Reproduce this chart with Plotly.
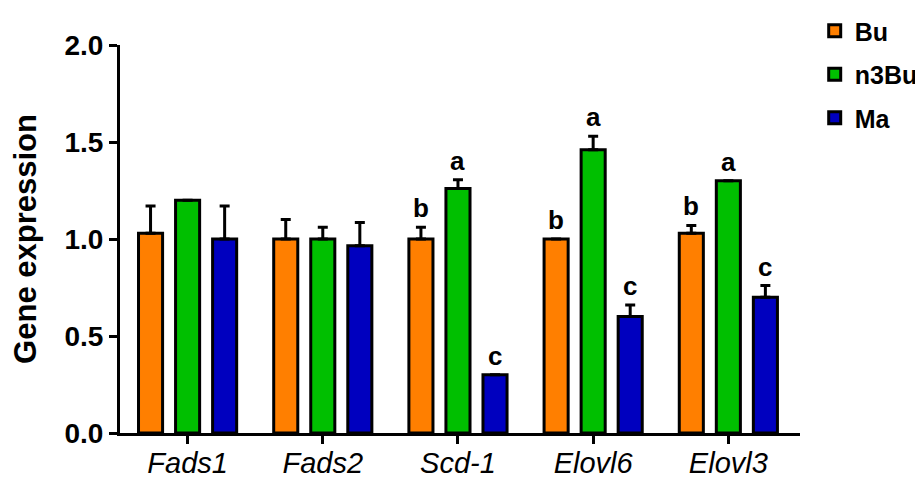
import plotly.graph_objects as go

genes = ["Fads1", "Fads2", "Scd-1", "Elovl6", "Elovl3"]
groups = ["Bu", "n3Bu", "Ma"]
colors = ["#FF7F00", "#00BF00", "#0000BF"]

bu_vals = [1.03, 1.00, 1.00, 1.00, 1.03]
bu_err = [0.14, 0.10, 0.06, 0.0, 0.04]
n3bu_vals = [1.20, 1.00, 1.26, 1.46, 1.30]
n3bu_err = [0.0, 0.06, 0.045, 0.07, 0.0]
ma_vals = [1.00, 0.965, 0.30, 0.60, 0.70]
ma_err = [0.17, 0.12, 0.0, 0.06, 0.06]

bu_letters = ["", "", "b", "b", "b"]
n3bu_letters = ["", "", "a", "a", "a"]
ma_letters = ["", "", "c", "c", "c"]

vals = [bu_vals, n3bu_vals, ma_vals]
errs = [bu_err, n3bu_err, ma_err]
letters = [bu_letters, n3bu_letters, ma_letters]

FONT = "Liberation Sans, Arial, sans-serif"

fig = go.Figure()
for j, g in enumerate(groups):
    fig.add_trace(go.Bar(
        name=g, x=genes, y=vals[j], legendgroup=g,
        marker=dict(color=colors[j], line=dict(color="black", width=3)),
        error_y=dict(type="data", symmetric=False, array=errs[j],
                     arrayminus=[0] * len(genes), color="black",
                     thickness=3, width=5),
    ))

slot = 0.274
for j in range(3):
    for i in range(len(genes)):
        if letters[j][i]:
            fig.add_annotation(
                x=i + (j - 1) * slot, y=vals[j][i] + errs[j][i],
                xref="x", yref="y", text=letters[j][i], showarrow=False,
                yanchor="bottom", yshift=2,
                font=dict(family=FONT, size=26, color="black", weight="bold"),
            )

fig.update_layout(
    width=923, height=477,
    margin=dict(l=112, r=131, t=37, b=52, autoexpand=False),
    paper_bgcolor="white", plot_bgcolor="white",
    barmode="group", bargap=0.178, bargroupgap=0.35,
    legend=dict(xref="container", yref="container",
                x=0.874, xanchor="left", y=1.013, yanchor="top",
                font=dict(family=FONT, size=25, color="black", weight="bold"),
                traceorder="grouped", tracegroupgap=8,
                bgcolor="rgba(0,0,0,0)"),
    font=dict(family=FONT, color="black"),
)
fig.update_xaxes(
    type="category", range=[-0.5, 4.53], automargin=False,
    showline=True, linecolor="black", linewidth=3,
    ticks="outside", ticklen=8, tickwidth=3, tickcolor="black",
    ticklabelstandoff=-6,
    tickfont=dict(family=FONT, size=29, style="italic", color="black"),
    showgrid=False, zeroline=False,
)
fig.update_yaxes(
    range=[0, 2], tickvals=[0, 0.5, 1.0, 1.5, 2.0], tickformat=".1f",
    automargin=False,
    showline=True, linecolor="black", linewidth=3,
    ticks="outside", ticklen=8, tickwidth=3, tickcolor="black",
    tickfont=dict(family=FONT, size=28, color="black", weight="bold"),
    showgrid=False, zeroline=False,
    title=dict(text="Gene expression", standoff=23,
               font=dict(family=FONT, size=31, color="black", weight="bold")),
)
fig.write_html("out.html")
